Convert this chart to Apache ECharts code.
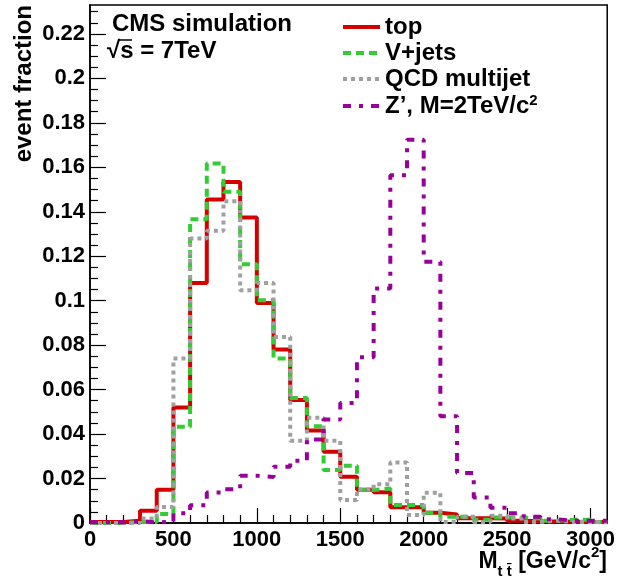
<!DOCTYPE html>
<html>
<head>
<meta charset="utf-8">
<script src="https://cdn.jsdelivr.net/npm/echarts@6/dist/echarts.min.js"></script>
<style>html,body{margin:0;padding:0;background:#fff;}#c{width:618px;height:582px;}</style>
</head>
<body>
<div id="c"></div>
<script>
// bin edges (GeV/c^2), 100 GeV bins
const binEdges = [0,100,200,300,400,500,600,700,800,900,1000,1100,1200,1300,1400,1500,1600,1700,1800,1900,2000,2100,2200,2300,2400,2500,2600,2700,2800,2900,3000,3100];
const topFrac  = [0.0005,0.0005,0.001,0.0055,0.015,0.052,0.108,0.1455,0.1534,0.1374,0.099,0.078,0.0553,0.0416,0.032,0.0208,0.015,0.0138,0.0071,0.0071,0.0046,0.0038,0.0021,0.0021,0.002,0.001,0.0008,0.0007,0.0006,0.0005,0.0005];
const vjetsFrac= [0,0,0.0005,0.0005,0.004,0.0433,0.1366,0.1617,0.149,0.1164,0.1002,0.074,0.0562,0.0435,0.0238,0.0257,0.0148,0.0155,0.0081,0.0081,0.0046,0.0028,0.0028,0.0015,0.0025,0.0025,0.002,0.001,0.0015,0.0015,0.0005];
const qcdFrac  = [0,0,0,0.002,0.0072,0.074,0.128,0.1314,0.1447,0.1047,0.108,0.0837,0.037,0.0473,0.037,0.0103,0.0151,0.0174,0.0272,0.0036,0.0136,0.0005,0.0028,0.0003,0.0033,0.002,0.0005,0.001,0.0005,0.0005,0.0003];
const zpFrac   = [0.0003,0.0003,0.0008,0.0003,0.0005,0.0044,0.008,0.0137,0.0152,0.0213,0.0207,0.0253,0.028,0.0376,0.0465,0.054,0.0745,0.1055,0.1564,0.1724,0.1175,0.048,0.0225,0.0115,0.0069,0.0044,0.0028,0.0017,0.001,0.001,0.001];
const seriesNames = ['top','V+jets','QCD multijet','Z\u2019, M=2TeV/c2'];
const xMajorTicks = [0,500,1000,1500,2000,2500,3000];
const xMinorTicks = [100,200,300,400,600,700,800,900,1100,1200,1300,1400,1600,1700,1800,1900,2100,2200,2300,2400,2600,2700,2800,2900];
const yMajorTicks = [0,0.02,0.04,0.06,0.08,0.1,0.12,0.14,0.16,0.18,0.2,0.22];
const yMinorTicks = [0.005,0.01,0.015,0.025,0.03,0.035,0.045,0.05,0.055,0.065,0.07,0.075,0.085,0.09,0.095,0.105,0.11,0.115,0.125,0.13,0.135,0.145,0.15,0.155,0.165,0.17,0.175,0.185,0.19,0.195,0.205,0.21,0.215,0.225,0.23];

function hist(vals){
  const d = vals.map((v,i)=>[binEdges[i], v]);
  d.push([binEdges[vals.length], vals[vals.length-1]]);
  return d;
}
const FONT = 'Liberation Sans';
const chart = echarts.init(document.getElementById('c'), null, {renderer:'canvas'});
const lbl = {fontFamily: FONT, fontWeight: 'bold', fontSize: 22, color: '#000'};
chart.setOption({
  animation: false,
  backgroundColor: '#fff',
  grid: {left: 90, right: 8, top: 5, bottom: 59, show: true, borderColor: '#000', borderWidth: 1.5, backgroundColor: 'transparent'},
  xAxis: [
    {type: 'value', min: 0, max: 3100, position: 'bottom',
     axisLine: {show: true, lineStyle: {color: '#000', width: 1.5}},
     axisTick: {show: true, inside: true, length: 15, customValues: xMajorTicks, lineStyle: {color: '#000', width: 1.2}},
     axisLabel: Object.assign({margin: 6, customValues: xMajorTicks, formatter: v => String(v)}, lbl),
     splitLine: {show: false}},
    {type: 'value', min: 0, max: 3100, position: 'bottom',
     axisLine: {show: false},
     axisTick: {show: true, inside: true, length: 8, customValues: xMinorTicks, lineStyle: {color: '#000', width: 1.2}},
     axisLabel: {show: false}, splitLine: {show: false}}
  ],
  yAxis: [
    {type: 'value', min: 0, max: 0.233, position: 'left',
     axisLine: {show: true, lineStyle: {color: '#000', width: 1.5}},
     axisTick: {show: true, inside: true, length: 16, customValues: yMajorTicks, lineStyle: {color: '#000', width: 1.2}},
     axisLabel: Object.assign({margin: 5, customValues: yMajorTicks, formatter: v => String(v)}, lbl),
     splitLine: {show: false}},
    {type: 'value', min: 0, max: 0.233, position: 'left',
     axisLine: {show: false},
     axisTick: {show: true, inside: true, length: 8, customValues: yMinorTicks, lineStyle: {color: '#000', width: 1.2}},
     axisLabel: {show: false}, splitLine: {show: false}}
  ],
  legend: {
    orient: 'vertical', left: 336, top: 10, itemWidth: 37, itemHeight: 14, itemGap: 2,
    itemStyle: {opacity: 0},
    lineStyle: {width: 4},
    formatter: name => name === seriesNames[3] ? '{t|Z\u2019, M=2TeV/c}{p|2}' : '{t|' + name + '}',
    textStyle: {fontFamily: FONT, fontWeight: 'bold', fontSize: 24, color: '#000',
      rich: {
        t: {fontFamily: FONT, fontWeight: 'bold', fontSize: 24, color: '#000', lineHeight: 26},
        p: {fontFamily: FONT, fontWeight: 'bold', fontSize: 15, color: '#000', verticalAlign: 'top', lineHeight: 15}
      }},
    data: seriesNames
  },
  series: [
    {name: seriesNames[0], type: 'line', step: 'end', symbol: 'none', data: hist(topFrac),
     lineStyle: {color: '#d40000', width: 4}, itemStyle: {color: '#d40000'}},
    {name: seriesNames[1], type: 'line', step: 'end', symbol: 'none', data: hist(vjetsFrac),
     lineStyle: {color: '#33cc33', width: 4, type: [8,5]}, itemStyle: {color: '#33cc33'}},
    {name: seriesNames[2], type: 'line', step: 'end', symbol: 'none', data: hist(qcdFrac),
     lineStyle: {color: '#a0a0a0', width: 4, type: [4,4]}, itemStyle: {color: '#a0a0a0'}},
    {name: seriesNames[3], type: 'line', step: 'end', symbol: 'none', data: hist(zpFrac),
     lineStyle: {color: '#990099', width: 4, type: [8,8,4,8]}, itemStyle: {color: '#990099'}}
  ],
  graphic: [
    {type: 'text', x: 112, y: 24, style: {text: 'CMS simulation', fontFamily: FONT, fontWeight: 'bold', fontSize: 24, fill: '#000', verticalAlign: 'middle'}},
    {type: 'text', x: 107, y: 51, style: {text: '\u221As = 7TeV', fontFamily: FONT, fontWeight: 'bold', fontSize: 24, fill: '#000', verticalAlign: 'middle'}},
    {type: 'line', shape: {x1: 118, y1: 40, x2: 132, y2: 40}, style: {stroke: '#000', lineWidth: 1.5}},
    {type: 'text', x: 24, y: 5, rotation: Math.PI/2, style: {text: 'event fraction', fontFamily: FONT, fontWeight: 'bold', fontSize: 24, fill: '#000', align: 'right', verticalAlign: 'middle'}},
    {type: 'text', x: 607, y: 562, style: {
      text: '{m|M}{s|t t\u0304}{m| [GeV/c}{p|2}{m|]}', align: 'right', verticalAlign: 'middle',
      rich: {
        m: {fontFamily: FONT, fontWeight: 'bold', fontSize: 23, fill: '#000', lineHeight: 34, verticalAlign: 'middle'},
        s: {fontFamily: FONT, fontWeight: 'bold', fontSize: 15, fill: '#000', verticalAlign: 'bottom'},
        p: {fontFamily: FONT, fontWeight: 'bold', fontSize: 15, fill: '#000', verticalAlign: 'top'}
      }}}
  ]
});
</script>
</body>
</html>
